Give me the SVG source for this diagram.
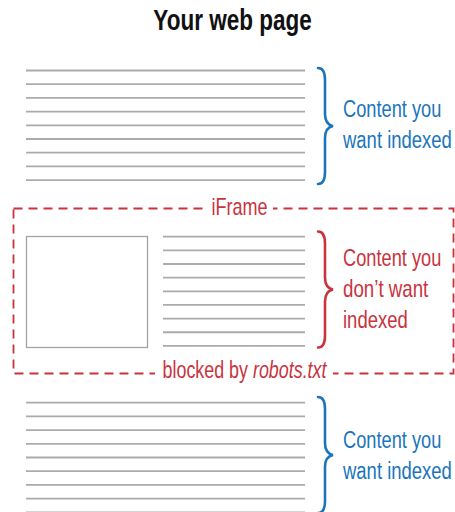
<svg xmlns="http://www.w3.org/2000/svg" width="455" height="512" viewBox="0 0 455 512">
<style>
.bg{fill:#ffffff}
.ln{stroke:#ababab;stroke-width:1.8;fill:none}
.box{stroke:#a3a3a3;stroke-width:1.3;fill:#ffffff}
.frame{stroke:#c9333e;stroke-width:1.8;fill:none;stroke-dasharray:9 6}
.brace-b{stroke:#1b75bc;stroke-width:2.6;fill:none;stroke-linecap:round}
.brace-r{stroke:#c9333e;stroke-width:2.6;fill:none;stroke-linecap:round}
.title{font-family:"Liberation Sans",Arial,sans-serif;font-weight:bold;font-size:30px;fill:#111111}
.lb{font-family:"Liberation Sans",Arial,sans-serif;font-size:24px;fill:#1b75bc}
.lr{font-family:"Liberation Sans",Arial,sans-serif;font-size:24px;fill:#c9333e}
</style>
<defs>
<g id="lines9">
<line class="ln" x1="0" y1="0" x2="279" y2="0"/>
<line class="ln" x1="0" y1="13.7" x2="279" y2="13.7"/>
<line class="ln" x1="0" y1="27.4" x2="279" y2="27.4"/>
<line class="ln" x1="0" y1="41.1" x2="279" y2="41.1"/>
<line class="ln" x1="0" y1="54.8" x2="279" y2="54.8"/>
<line class="ln" x1="0" y1="68.5" x2="279" y2="68.5"/>
<line class="ln" x1="0" y1="82.2" x2="279" y2="82.2"/>
<line class="ln" x1="0" y1="95.9" x2="279" y2="95.9"/>
<line class="ln" x1="0" y1="109.6" x2="279" y2="109.6"/>
</g>
<g id="lines9s">
<line class="ln" x1="0" y1="0" x2="142" y2="0"/>
<line class="ln" x1="0" y1="13.65" x2="142" y2="13.65"/>
<line class="ln" x1="0" y1="27.3" x2="142" y2="27.3"/>
<line class="ln" x1="0" y1="40.95" x2="142" y2="40.95"/>
<line class="ln" x1="0" y1="54.6" x2="142" y2="54.6"/>
<line class="ln" x1="0" y1="68.25" x2="142" y2="68.25"/>
<line class="ln" x1="0" y1="81.9" x2="142" y2="81.9"/>
<line class="ln" x1="0" y1="95.55" x2="142" y2="95.55"/>
<line class="ln" x1="0" y1="109.2" x2="142" y2="109.2"/>
</g>
<path id="brace" d="M0,0 C5,0 7,4 7,12 L7,46 C7,53 10,57 15,58 C10,59 7,63 7,70 L7,104 C7,112 5,116 0,116"/>
</defs>
<rect class="bg" x="0" y="0" width="455" height="512"/>

<g id="title">
<text class="title" x="0" y="0" text-anchor="middle" transform="translate(232.5,30) scale(0.75,1)">Your web page</text>
</g>

<g id="top-content">
<use href="#lines9" x="26" y="70.5"/>
<use href="#brace" class="brace-b" x="318" y="68"/>
<text class="lb" x="0" y="0" transform="translate(343,117) scale(0.76,1)">Content you</text>
<text class="lb" x="0" y="0" transform="translate(343,148) scale(0.77,1)">want indexed</text>
</g>

<g id="iframe">
<rect class="frame" x="13.5" y="208.5" width="440" height="165"/>
<rect class="bg" x="206" y="198" width="67" height="22"/>
<rect class="bg" x="155" y="362" width="178" height="22"/>
<text class="lr" x="0" y="0" text-anchor="middle" transform="translate(239.5,215) scale(0.75,1)">iFrame</text>
<text class="lr" x="0" y="0" text-anchor="middle" transform="translate(244.5,378) scale(0.745,1)">blocked by <tspan font-style="italic">robots.txt</tspan></text>
<rect class="box" x="26.5" y="236.5" width="121" height="111"/>
<use href="#lines9s" x="163" y="236.7"/>
</g>

<g id="iframe-content">
<use href="#brace" class="brace-r" x="318" y="231.5"/>
<text class="lr" x="0" y="0" transform="translate(343,266) scale(0.76,1)">Content you</text>
<text class="lr" x="0" y="0" transform="translate(343,297) scale(0.78,1)">don’t want</text>
<text class="lr" x="0" y="0" transform="translate(343,328) scale(0.77,1)">indexed</text>
</g>

<g id="bottom-content">
<use href="#lines9" x="26" y="402.7"/>
<use href="#brace" class="brace-b" x="318" y="397"/>
<text class="lb" x="0" y="0" transform="translate(343,448) scale(0.76,1)">Content you</text>
<text class="lb" x="0" y="0" transform="translate(343,479) scale(0.77,1)">want indexed</text>
</g>

<g id="connectors"></g>
</svg>
